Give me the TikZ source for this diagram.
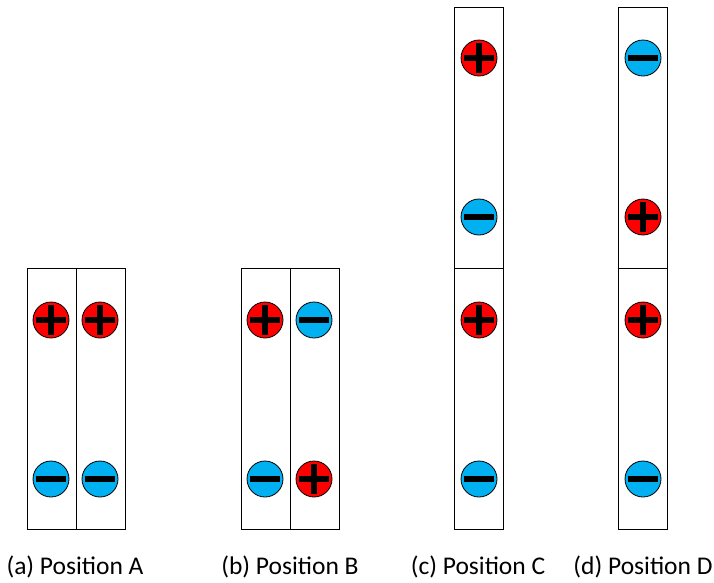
\documentclass[tikz,border=0pt]{standalone}
\usepackage{fontspec}
\setmainfont{Carlito}
\usetikzlibrary{positioning}
\definecolor{chargered}{RGB}{255,0,0}
\definecolor{chargeblue}{RGB}{0,176,240}
\tikzset{
    cell strip/.style={
        draw,
        line width=0.9pt,
        minimum width=49pt,
        minimum height=261pt,
        inner sep=0pt
    },
    charge bar/.style={line width=6pt, draw=black},
    pos charge/.style={
        circle,
        draw,
        line width=0.8pt,
        fill=chargered,
        minimum size=36pt,
        inner sep=0pt,
        path picture={
            \draw[charge bar] ([xshift=-15pt]path picture bounding box.center) -- ([xshift=15pt]path picture bounding box.center);
            \draw[charge bar] ([yshift=-15pt]path picture bounding box.center) -- ([yshift=15pt]path picture bounding box.center);
        }
    },
    neg charge/.style={
        circle,
        draw,
        line width=0.8pt,
        fill=chargeblue,
        minimum size=36pt,
        inner sep=0pt,
        path picture={
            \draw[charge bar] ([xshift=-15pt]path picture bounding box.center) -- ([xshift=15pt]path picture bounding box.center);
        }
    },
    caption/.style={anchor=base, font=\fontsize{25.5}{30}\selectfont}
}

\begin{document}
\begin{tikzpicture}[x=1pt,y=-1pt]
    \useasboundingbox (0,0) rectangle (714,582);

    % strips
    \node[cell strip] (a1) at (51.5,399) {};
    \node[cell strip] (a2) at (100.5,399) {};
    \node[cell strip] (b1) at (265.5,399) {};
    \node[cell strip] (b2) at (314.5,399) {};
    \node[cell strip] (c1) at (479,399) {};
    \node[cell strip] (c2) at (479,138) {};
    \node[cell strip] (d1) at (643,399) {};
    \node[cell strip] (d2) at (643,138) {};

    % charges
    \node[pos charge] (a1p) at (51,320) {};
    \node[neg charge] (a1n) at (51,479) {};
    \node[pos charge] (a2p) at (100,320) {};
    \node[neg charge] (a2n) at (100,479) {};

    \node[pos charge] (b1p) at (265,320) {};
    \node[neg charge] (b1n) at (265,479) {};
    \node[neg charge] (b2n) at (314,320) {};
    \node[pos charge] (b2p) at (314,479) {};

    \node[pos charge] (c1p) at (479,320) {};
    \node[neg charge] (c1n) at (479,479) {};
    \node[pos charge] (c2p) at (479,58) {};
    \node[neg charge] (c2n) at (479,217) {};

    \node[pos charge] (d1p) at (643,320) {};
    \node[neg charge] (d1n) at (643,479) {};
    \node[neg charge] (d2n) at (643,58) {};
    \node[pos charge] (d2p) at (643,217) {};

    % captions
    \node[caption] (capa) at (75,574) {(a) Position A};
    \node[caption] (capb) at (290,574) {(b) Position B};
    \node[caption] (capc) at (478,574) {(c) Position C};
    \node[caption] (capd) at (643,574) {(d) Position D};
\end{tikzpicture}
\end{document}
